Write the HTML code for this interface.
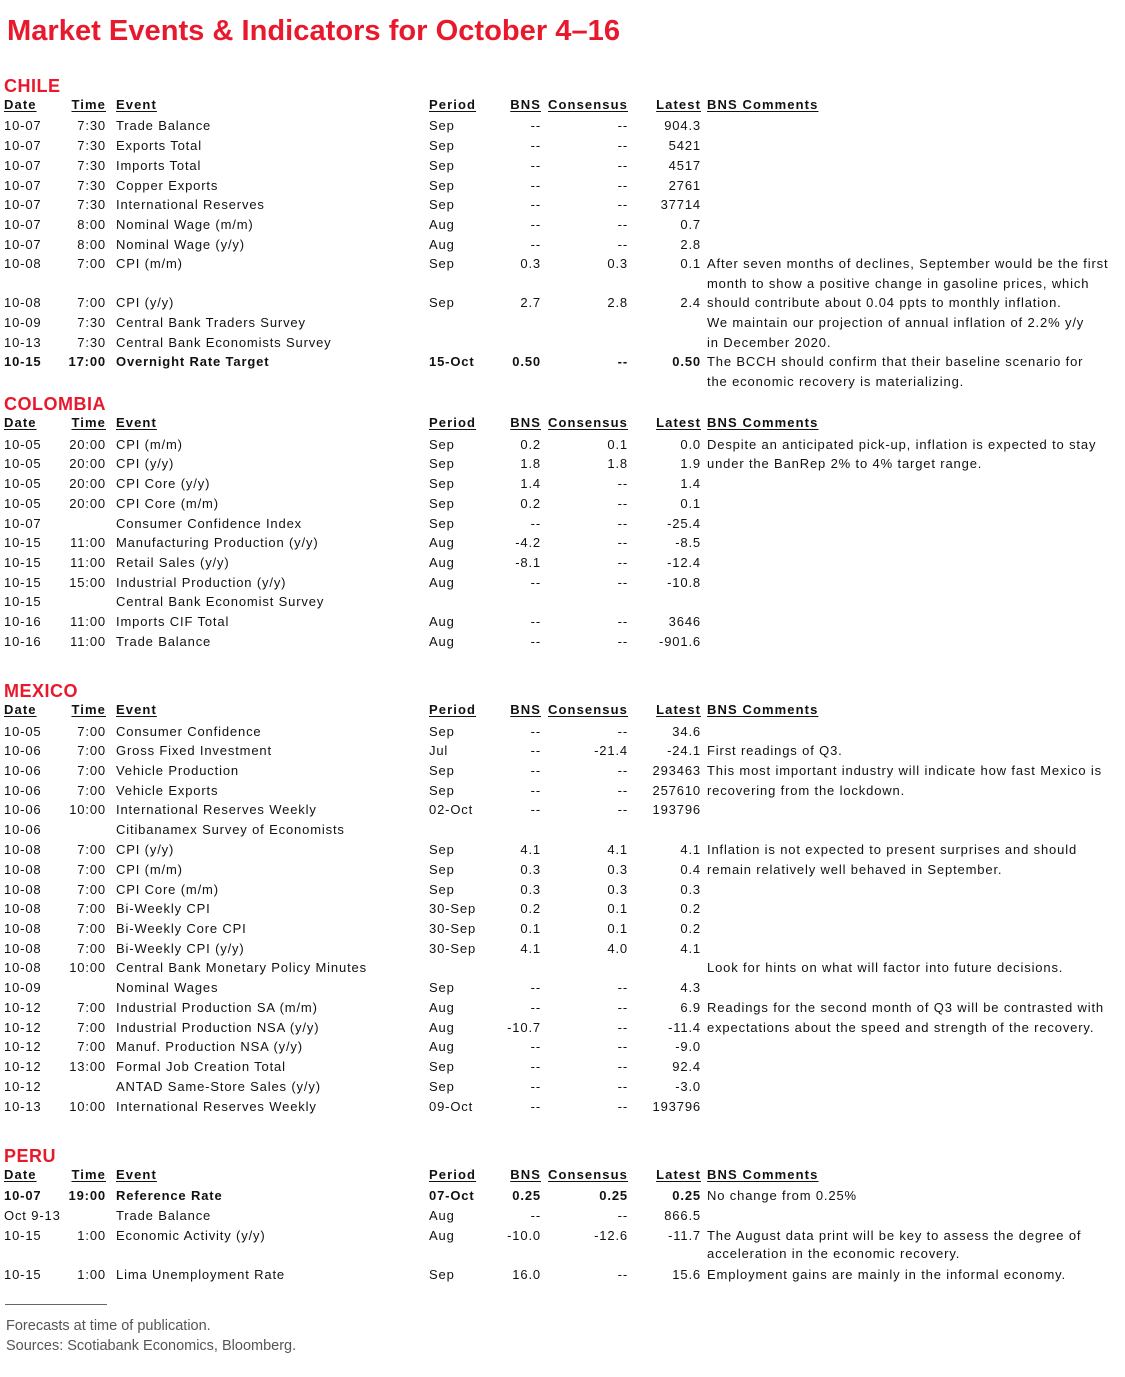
<!DOCTYPE html>
<html><head><meta charset="utf-8"><style>
body{margin:0;width:1125px;height:1377px;background:#fff;position:relative;font-family:"Liberation Sans",Arial,sans-serif;color:#111;overflow:hidden}
.r{position:absolute;left:0;width:1125px;height:18px;font-size:13px;letter-spacing:0.85px;line-height:18px;white-space:nowrap}
.r span{position:absolute;top:0}
.d{left:4px}.t{left:50px;width:56px;text-align:right}.e{left:116px}.p{left:429px}
.b{left:470px;width:71px;text-align:right}.c{left:548px;width:80px;text-align:right}
.l{left:620px;width:81px;text-align:right}.m{left:707px}
.h span{font-weight:bold;text-decoration:underline;text-underline-offset:2px;letter-spacing:1.1px}
.bold span{font-weight:bold}
.sec{position:absolute;left:4px;font-size:18px;font-weight:bold;color:#e8192c;letter-spacing:0.5px;line-height:20px}
.f{position:absolute;left:6px;font-size:14.5px;color:#555;line-height:18px}
</style></head><body>
<svg style="position:absolute;left:0;top:0" width="700" height="50"><text x="7" y="40" font-family="Liberation Sans, Arial, sans-serif" font-weight="bold" font-size="29" fill="#e8192c" textLength="613" lengthAdjust="spacingAndGlyphs">Market Events &amp; Indicators for October 4–16</text></svg>

<div class="sec" style="top:76px">CHILE</div>
<div class="r h" style="top:96px"><span class="d">Date</span><span class="t">Time</span><span class="e">Event</span><span class="p">Period</span><span class="b">BNS</span><span class="c">Consensus</span><span class="l">Latest</span><span class="m">BNS Comments</span></div>
<div class="r" style="top:117px"><span class="d">10-07</span><span class="t">7:30</span><span class="e">Trade Balance</span><span class="p">Sep</span><span class="b">--</span><span class="c">--</span><span class="l">904.3</span></div>
<div class="r" style="top:137px"><span class="d">10-07</span><span class="t">7:30</span><span class="e">Exports Total</span><span class="p">Sep</span><span class="b">--</span><span class="c">--</span><span class="l">5421</span></div>
<div class="r" style="top:157px"><span class="d">10-07</span><span class="t">7:30</span><span class="e">Imports Total</span><span class="p">Sep</span><span class="b">--</span><span class="c">--</span><span class="l">4517</span></div>
<div class="r" style="top:177px"><span class="d">10-07</span><span class="t">7:30</span><span class="e">Copper Exports</span><span class="p">Sep</span><span class="b">--</span><span class="c">--</span><span class="l">2761</span></div>
<div class="r" style="top:196px"><span class="d">10-07</span><span class="t">7:30</span><span class="e">International Reserves</span><span class="p">Sep</span><span class="b">--</span><span class="c">--</span><span class="l">37714</span></div>
<div class="r" style="top:216px"><span class="d">10-07</span><span class="t">8:00</span><span class="e">Nominal Wage (m/m)</span><span class="p">Aug</span><span class="b">--</span><span class="c">--</span><span class="l">0.7</span></div>
<div class="r" style="top:236px"><span class="d">10-07</span><span class="t">8:00</span><span class="e">Nominal Wage (y/y)</span><span class="p">Aug</span><span class="b">--</span><span class="c">--</span><span class="l">2.8</span></div>
<div class="r" style="top:255px"><span class="d">10-08</span><span class="t">7:00</span><span class="e">CPI (m/m)</span><span class="p">Sep</span><span class="b">0.3</span><span class="c">0.3</span><span class="l">0.1</span><span class="m">After seven months of declines, September would be the first</span></div>
<div class="r" style="top:275px"><span class="m">month to show a positive change in gasoline prices, which</span></div>
<div class="r" style="top:294px"><span class="d">10-08</span><span class="t">7:00</span><span class="e">CPI (y/y)</span><span class="p">Sep</span><span class="b">2.7</span><span class="c">2.8</span><span class="l">2.4</span><span class="m">should contribute about 0.04 ppts to monthly inflation.</span></div>
<div class="r" style="top:314px"><span class="d">10-09</span><span class="t">7:30</span><span class="e">Central Bank Traders Survey</span><span class="m">We maintain our projection of annual inflation of 2.2% y/y</span></div>
<div class="r" style="top:334px"><span class="d">10-13</span><span class="t">7:30</span><span class="e">Central Bank Economists Survey</span><span class="m">in December 2020.</span></div>
<div class="r bold" style="top:353px"><span class="d">10-15</span><span class="t">17:00</span><span class="e">Overnight Rate Target</span><span class="p">15-Oct</span><span class="b">0.50</span><span class="c">--</span><span class="l">0.50</span><span class="m" style="font-weight:normal">The BCCH should confirm that their baseline scenario for</span></div>
<div class="r" style="top:373px"><span class="m">the economic recovery is materializing.</span></div>

<div class="sec" style="top:394px">COLOMBIA</div>
<div class="r h" style="top:414px"><span class="d">Date</span><span class="t">Time</span><span class="e">Event</span><span class="p">Period</span><span class="b">BNS</span><span class="c">Consensus</span><span class="l">Latest</span><span class="m">BNS Comments</span></div>
<div class="r" style="top:436px"><span class="d">10-05</span><span class="t">20:00</span><span class="e">CPI (m/m)</span><span class="p">Sep</span><span class="b">0.2</span><span class="c">0.1</span><span class="l">0.0</span><span class="m">Despite an anticipated pick-up, inflation is expected to stay</span></div>
<div class="r" style="top:455px"><span class="d">10-05</span><span class="t">20:00</span><span class="e">CPI (y/y)</span><span class="p">Sep</span><span class="b">1.8</span><span class="c">1.8</span><span class="l">1.9</span><span class="m">under the BanRep 2% to 4% target range.</span></div>
<div class="r" style="top:475px"><span class="d">10-05</span><span class="t">20:00</span><span class="e">CPI Core (y/y)</span><span class="p">Sep</span><span class="b">1.4</span><span class="c">--</span><span class="l">1.4</span></div>
<div class="r" style="top:495px"><span class="d">10-05</span><span class="t">20:00</span><span class="e">CPI Core (m/m)</span><span class="p">Sep</span><span class="b">0.2</span><span class="c">--</span><span class="l">0.1</span></div>
<div class="r" style="top:515px"><span class="d">10-07</span><span class="e">Consumer Confidence Index</span><span class="p">Sep</span><span class="b">--</span><span class="c">--</span><span class="l">-25.4</span></div>
<div class="r" style="top:534px"><span class="d">10-15</span><span class="t">11:00</span><span class="e">Manufacturing Production (y/y)</span><span class="p">Aug</span><span class="b">-4.2</span><span class="c">--</span><span class="l">-8.5</span></div>
<div class="r" style="top:554px"><span class="d">10-15</span><span class="t">11:00</span><span class="e">Retail Sales (y/y)</span><span class="p">Aug</span><span class="b">-8.1</span><span class="c">--</span><span class="l">-12.4</span></div>
<div class="r" style="top:574px"><span class="d">10-15</span><span class="t">15:00</span><span class="e">Industrial Production (y/y)</span><span class="p">Aug</span><span class="b">--</span><span class="c">--</span><span class="l">-10.8</span></div>
<div class="r" style="top:593px"><span class="d">10-15</span><span class="e">Central Bank Economist Survey</span></div>
<div class="r" style="top:613px"><span class="d">10-16</span><span class="t">11:00</span><span class="e">Imports CIF Total</span><span class="p">Aug</span><span class="b">--</span><span class="c">--</span><span class="l">3646</span></div>
<div class="r" style="top:633px"><span class="d">10-16</span><span class="t">11:00</span><span class="e">Trade Balance</span><span class="p">Aug</span><span class="b">--</span><span class="c">--</span><span class="l">-901.6</span></div>

<div class="sec" style="top:681px">MEXICO</div>
<div class="r h" style="top:701px"><span class="d">Date</span><span class="t">Time</span><span class="e">Event</span><span class="p">Period</span><span class="b">BNS</span><span class="c">Consensus</span><span class="l">Latest</span><span class="m">BNS Comments</span></div>
<div class="r" style="top:723px"><span class="d">10-05</span><span class="t">7:00</span><span class="e">Consumer Confidence</span><span class="p">Sep</span><span class="b">--</span><span class="c">--</span><span class="l">34.6</span></div>
<div class="r" style="top:742px"><span class="d">10-06</span><span class="t">7:00</span><span class="e">Gross Fixed Investment</span><span class="p">Jul</span><span class="b">--</span><span class="c">-21.4</span><span class="l">-24.1</span><span class="m">First readings of Q3.</span></div>
<div class="r" style="top:762px"><span class="d">10-06</span><span class="t">7:00</span><span class="e">Vehicle Production</span><span class="p">Sep</span><span class="b">--</span><span class="c">--</span><span class="l">293463</span><span class="m">This most important industry will indicate how fast Mexico is</span></div>
<div class="r" style="top:782px"><span class="d">10-06</span><span class="t">7:00</span><span class="e">Vehicle Exports</span><span class="p">Sep</span><span class="b">--</span><span class="c">--</span><span class="l">257610</span><span class="m">recovering from the lockdown.</span></div>
<div class="r" style="top:801px"><span class="d">10-06</span><span class="t">10:00</span><span class="e">International Reserves Weekly</span><span class="p">02-Oct</span><span class="b">--</span><span class="c">--</span><span class="l">193796</span></div>
<div class="r" style="top:821px"><span class="d">10-06</span><span class="e">Citibanamex Survey of Economists</span></div>
<div class="r" style="top:841px"><span class="d">10-08</span><span class="t">7:00</span><span class="e">CPI (y/y)</span><span class="p">Sep</span><span class="b">4.1</span><span class="c">4.1</span><span class="l">4.1</span><span class="m">Inflation is not expected to present surprises and should</span></div>
<div class="r" style="top:861px"><span class="d">10-08</span><span class="t">7:00</span><span class="e">CPI (m/m)</span><span class="p">Sep</span><span class="b">0.3</span><span class="c">0.3</span><span class="l">0.4</span><span class="m">remain relatively well behaved in September.</span></div>
<div class="r" style="top:881px"><span class="d">10-08</span><span class="t">7:00</span><span class="e">CPI Core (m/m)</span><span class="p">Sep</span><span class="b">0.3</span><span class="c">0.3</span><span class="l">0.3</span></div>
<div class="r" style="top:900px"><span class="d">10-08</span><span class="t">7:00</span><span class="e">Bi-Weekly CPI</span><span class="p">30-Sep</span><span class="b">0.2</span><span class="c">0.1</span><span class="l">0.2</span></div>
<div class="r" style="top:920px"><span class="d">10-08</span><span class="t">7:00</span><span class="e">Bi-Weekly Core CPI</span><span class="p">30-Sep</span><span class="b">0.1</span><span class="c">0.1</span><span class="l">0.2</span></div>
<div class="r" style="top:940px"><span class="d">10-08</span><span class="t">7:00</span><span class="e">Bi-Weekly CPI (y/y)</span><span class="p">30-Sep</span><span class="b">4.1</span><span class="c">4.0</span><span class="l">4.1</span></div>
<div class="r" style="top:959px"><span class="d">10-08</span><span class="t">10:00</span><span class="e">Central Bank Monetary Policy Minutes</span><span class="m">Look for hints on what will factor into future decisions.</span></div>
<div class="r" style="top:979px"><span class="d">10-09</span><span class="e">Nominal Wages</span><span class="p">Sep</span><span class="b">--</span><span class="c">--</span><span class="l">4.3</span></div>
<div class="r" style="top:999px"><span class="d">10-12</span><span class="t">7:00</span><span class="e">Industrial Production SA (m/m)</span><span class="p">Aug</span><span class="b">--</span><span class="c">--</span><span class="l">6.9</span><span class="m">Readings for the second month of Q3 will be contrasted with</span></div>
<div class="r" style="top:1019px"><span class="d">10-12</span><span class="t">7:00</span><span class="e">Industrial Production NSA (y/y)</span><span class="p">Aug</span><span class="b">-10.7</span><span class="c">--</span><span class="l">-11.4</span><span class="m">expectations about the speed and strength of the recovery.</span></div>
<div class="r" style="top:1038px"><span class="d">10-12</span><span class="t">7:00</span><span class="e">Manuf. Production NSA (y/y)</span><span class="p">Aug</span><span class="b">--</span><span class="c">--</span><span class="l">-9.0</span></div>
<div class="r" style="top:1058px"><span class="d">10-12</span><span class="t">13:00</span><span class="e">Formal Job Creation Total</span><span class="p">Sep</span><span class="b">--</span><span class="c">--</span><span class="l">92.4</span></div>
<div class="r" style="top:1078px"><span class="d">10-12</span><span class="e">ANTAD Same-Store Sales (y/y)</span><span class="p">Sep</span><span class="b">--</span><span class="c">--</span><span class="l">-3.0</span></div>
<div class="r" style="top:1098px"><span class="d">10-13</span><span class="t">10:00</span><span class="e">International Reserves Weekly</span><span class="p">09-Oct</span><span class="b">--</span><span class="c">--</span><span class="l">193796</span></div>

<div class="sec" style="top:1146px">PERU</div>
<div class="r h" style="top:1166px"><span class="d">Date</span><span class="t">Time</span><span class="e">Event</span><span class="p">Period</span><span class="b">BNS</span><span class="c">Consensus</span><span class="l">Latest</span><span class="m">BNS Comments</span></div>
<div class="r bold" style="top:1187px"><span class="d">10-07</span><span class="t">19:00</span><span class="e">Reference Rate</span><span class="p">07-Oct</span><span class="b">0.25</span><span class="c">0.25</span><span class="l">0.25</span><span class="m" style="font-weight:normal">No change from 0.25%</span></div>
<div class="r" style="top:1207px"><span class="d">Oct 9-13</span><span class="e">Trade Balance</span><span class="p">Aug</span><span class="b">--</span><span class="c">--</span><span class="l">866.5</span></div>
<div class="r" style="top:1227px"><span class="d">10-15</span><span class="t">1:00</span><span class="e">Economic Activity (y/y)</span><span class="p">Aug</span><span class="b">-10.0</span><span class="c">-12.6</span><span class="l">-11.7</span><span class="m">The August data print will be key to assess the degree of</span></div>
<div class="r" style="top:1245px"><span class="m">acceleration in the economic recovery.</span></div>
<div class="r" style="top:1266px"><span class="d">10-15</span><span class="t">1:00</span><span class="e">Lima Unemployment Rate</span><span class="p">Sep</span><span class="b">16.0</span><span class="c">--</span><span class="l">15.6</span><span class="m">Employment gains are mainly in the informal economy.</span></div>

<div style="position:absolute;left:5px;top:1304px;width:102px;height:1px;background:#666"></div>
<div class="f" style="top:1317px">Forecasts at time of publication.</div>
<div class="f" style="top:1337px">Sources: Scotiabank Economics, Bloomberg.</div>
</body></html>
